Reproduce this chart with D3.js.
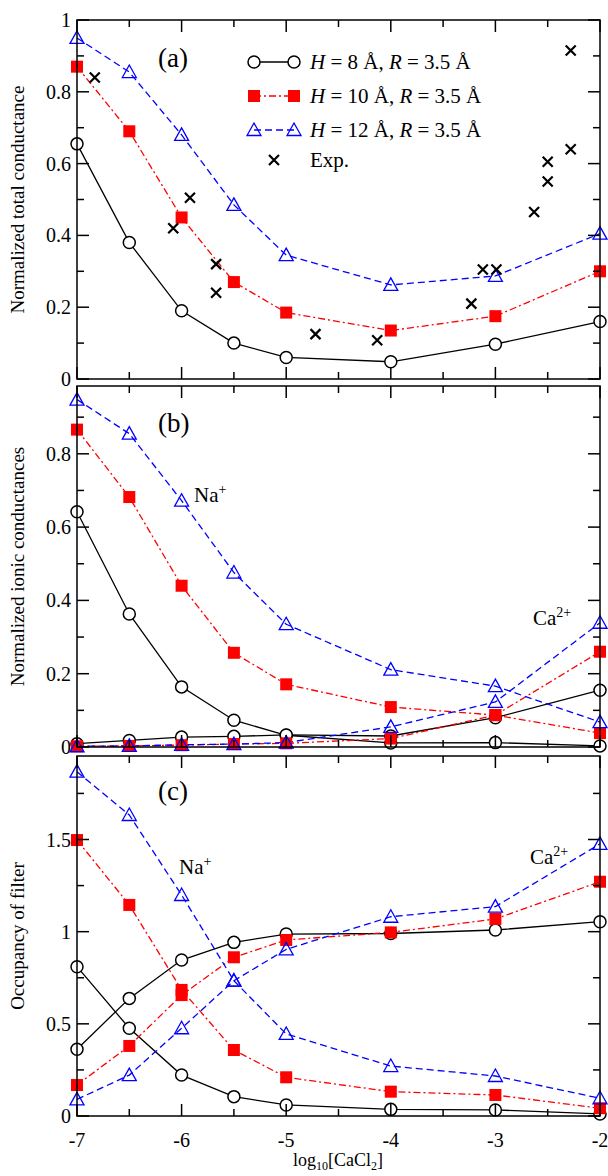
<!DOCTYPE html>
<html><head><meta charset="utf-8">
<script src="https://cdn.jsdelivr.net/npm/d3@7"></script>
<style>body{margin:0;background:#fff}text{font-family:"Liberation Serif","DejaVu Serif",serif}</style>
</head><body><svg id="c" width="608" height="1176"></svg>
<script>
const xs = [-7,-6.5,-6,-5.5,-5,-4,-3,-2];
// panel a: total conductance
const aH8  = [0.655,0.38,0.19,0.10,0.06,0.048,0.097,0.16];
const aH10 = [0.87,0.69,0.45,0.27,0.185,0.135,0.175,0.30];
const aH12 = [0.95,0.855,0.68,0.485,0.345,0.262,0.287,0.405];
const expX = [-6.83,-6.08,-5.92,-5.67,-5.67,-4.72,-4.13,-3.23,-3.12,-2.99,-2.63,-2.50,-2.50,-2.28,-2.28];
const expY = [0.84,0.42,0.505,0.32,0.24,0.125,0.108,0.21,0.305,0.305,0.465,0.55,0.605,0.64,0.915];
// panel b: ionic conductances
const bNaH8  = [0.642,0.363,0.164,0.073,0.032,0.011,0.012,0.003];
const bCaH8  = [0.009,0.018,0.027,0.029,0.033,0.03,0.08,0.155];
const bNaH10 = [0.866,0.682,0.44,0.257,0.171,0.109,0.087,0.038];
const bCaH10 = [0.002,0.003,0.005,0.008,0.01,0.023,0.087,0.26];
const bNaH12 = [0.948,0.855,0.672,0.476,0.335,0.211,0.166,0.068];
const bCaH12 = [0.002,0.003,0.006,0.008,0.012,0.055,0.123,0.339];
// panel c: occupancy
const cNaH8  = [0.81,0.476,0.222,0.105,0.06,0.036,0.033,0.011];
const cCaH8  = [0.362,0.638,0.846,0.942,0.987,0.99,1.009,1.054];
const cNaH10 = [1.497,1.145,0.684,0.358,0.21,0.132,0.114,0.042];
const cCaH10 = [0.168,0.38,0.656,0.861,0.955,0.996,1.069,1.271];
const cNaH12 = [1.868,1.633,1.199,0.734,0.445,0.271,0.217,0.096];
const cCaH12 = [0.09,0.222,0.476,0.734,0.904,1.081,1.136,1.476];
const xTicks = [-7,-6,-5,-4,-3,-2];

const svg = d3.select("#c");
const L=77, R=600;
const x = d3.scaleLinear().domain([-7,-2]).range([L,R]);
const styles = {
  H8:{color:"#000",dash:null,marker:"circle"},
  H10:{color:"#f00",dash:"7,3,2,3",marker:"square"},
  H12:{color:"#00f",dash:"7,4",marker:"triangle"}
};
const panels = [
  {top:20,bot:379,dom:[0,1.0],ticks:[0,0.2,0.4,0.6,0.8,1],minor:d3.range(0.1,1,0.2),title:"Normalized total conductance",lab:"(a)",
   series:[["H8",aH8],["H10",aH10],["H12",aH12]]},
  {top:386,bot:747,dom:[0,0.985],ticks:[0,0.2,0.4,0.6,0.8],minor:d3.range(0.1,0.95,0.2),title:"Normalized ionic conductances",lab:"(b)",
   series:[["H8",bNaH8],["H8",bCaH8],["H10",bNaH10],["H10",bCaH10],["H12",bNaH12],["H12",bCaH12]]},
  {top:756,bot:1116,dom:[0,1.953],ticks:[0,0.5,1,1.5],minor:[0.25,0.75,1.25,1.75],title:"Occupancy of filter",lab:"(c)",
   series:[["H8",cNaH8],["H8",cCaH8],["H10",cNaH10],["H10",cCaH10],["H12",cNaH12],["H12",cCaH12]]}
];
function marker(g,type,cx,cy,color){
  if(type==="circle") g.append("circle").attr("cx",cx).attr("cy",cy).attr("r",6).attr("fill","#fff").attr("stroke",color).attr("stroke-width",1.5);
  else if(type==="square") g.append("rect").attr("x",cx-6).attr("y",cy-6).attr("width",12).attr("height",12).attr("fill",color);
  else g.append("path").attr("d",`M${cx},${cy-7}L${cx+7},${cy+5.5}L${cx-7},${cy+5.5}Z`).attr("fill","none").attr("stroke",color).attr("stroke-width",1.3);
}
panels.forEach((p,i)=>{
  const y = d3.scaleLinear().domain(p.dom).range([p.bot,p.top]);
  const g = svg.append("g");
  p.series.forEach(([k,vals])=>{
    const s=styles[k];
    const line=d3.line().x((d,j)=>x(xs[j])).y(d=>y(d));
    g.append("path").attr("d",line(vals)).attr("fill","none").attr("stroke",s.color).attr("stroke-width",1.3).attr("stroke-dasharray",s.dash);
  });
  p.series.forEach(([k,vals])=>{
    const s=styles[k];
    vals.forEach((v,j)=>marker(g,s.marker,x(xs[j]),y(v),s.color));
  });
  g.append("rect").attr("x",L).attr("y",p.top).attr("width",R-L).attr("height",p.bot-p.top).attr("fill","none").attr("stroke","#000").attr("stroke-width",1.5);
  const xmaj=xTicks, xmin=[-6.5,-5.5,-4.5,-3.5,-2.5];
  xmaj.forEach(t=>{g.append("line").attr("x1",x(t)).attr("x2",x(t)).attr("y1",p.bot).attr("y2",p.bot-12).attr("stroke","#000").attr("stroke-width",1.5);
    g.append("line").attr("x1",x(t)).attr("x2",x(t)).attr("y1",p.top).attr("y2",p.top+12).attr("stroke","#000").attr("stroke-width",1.5);});
  xmin.forEach(t=>{g.append("line").attr("x1",x(t)).attr("x2",x(t)).attr("y1",p.bot).attr("y2",p.bot-7).attr("stroke","#000").attr("stroke-width",1.5);
    g.append("line").attr("x1",x(t)).attr("x2",x(t)).attr("y1",p.top).attr("y2",p.top+7).attr("stroke","#000").attr("stroke-width",1.5);});
  p.ticks.forEach(t=>{g.append("line").attr("x1",L).attr("x2",L+12).attr("y1",y(t)).attr("y2",y(t)).attr("stroke","#000").attr("stroke-width",1.5);
    g.append("line").attr("x1",R).attr("x2",R-12).attr("y1",y(t)).attr("y2",y(t)).attr("stroke","#000").attr("stroke-width",1.5);
    g.append("text").attr("x",L-6).attr("y",y(t)+7).attr("text-anchor","end").attr("font-size",20).text(t);});
  p.minor.forEach(t=>{g.append("line").attr("x1",L).attr("x2",L+7).attr("y1",y(t)).attr("y2",y(t)).attr("stroke","#000").attr("stroke-width",1.5);
    g.append("line").attr("x1",R).attr("x2",R-7).attr("y1",y(t)).attr("y2",y(t)).attr("stroke","#000").attr("stroke-width",1.5);});
  g.append("text").attr("transform",`translate(24,${(p.top+p.bot)/2}) rotate(-90)`).attr("text-anchor","middle").attr("font-size",19).text(p.title);
  g.append("text").attr("x",158).attr("y",[67,432,800][i]).attr("font-size",27).text(p.lab);
  if(i===0){
    expX.forEach((ex,j)=>{const cx=x(ex),cy=y(expY[j]);
      g.append("path").attr("d",`M${cx-5},${cy-5}L${cx+5},${cy+5}M${cx-5},${cy+5}L${cx+5},${cy-5}`).attr("stroke","#000").attr("stroke-width",2.2);});
    const leg=[["H8","8"],["H10","10"],["H12","12"]];
    leg.forEach(([k,h],j)=>{const s=styles[k],yy=62+j*34;
      g.append("line").attr("x1",254).attr("x2",294).attr("y1",yy).attr("y2",yy).attr("stroke",s.color).attr("stroke-width",1.3).attr("stroke-dasharray",s.dash);
      marker(g,s.marker,254,yy,s.color);marker(g,s.marker,294,yy,s.color);
      const t=g.append("text").attr("x",310).attr("y",yy+7).attr("font-size",21);
      t.append("tspan").attr("font-style","italic").text("H");
      t.append("tspan").text(` = ${h} Å, `);
      t.append("tspan").attr("font-style","italic").text("R");
      t.append("tspan").text(" = 3.5 Å");});
    const cx=274,cy=160;
    g.append("path").attr("d",`M${cx-5},${cy-5}L${cx+5},${cy+5}M${cx-5},${cy+5}L${cx+5},${cy-5}`).attr("stroke","#000").attr("stroke-width",2.2);
    g.append("text").attr("x",310).attr("y",cy+7).attr("font-size",21).text("Exp.");
  }
});
function ion(xp,yp,base,sup){const t=svg.append("text").attr("x",xp).attr("y",yp).attr("font-size",21);
  t.append("tspan").text(base);t.append("tspan").attr("font-size",14).attr("dy",-8).text(sup);}
ion(194,502,"Na","+");ion(533,625,"Ca","2+");ion(179,874,"Na","+");ion(530,864,"Ca","2+");
xTicks.forEach(t=>svg.append("text").attr("x",x(t)).attr("y",1147).attr("text-anchor","middle").attr("font-size",20).text(t));
const xl=svg.append("text").attr("x",338).attr("y",1166).attr("text-anchor","middle").attr("font-size",18);
xl.append("tspan").text("log");xl.append("tspan").attr("font-size",12).attr("dy",4).text("10");
xl.append("tspan").attr("dy",-4).text("[CaCl");xl.append("tspan").attr("font-size",12).attr("dy",4).text("2");
xl.append("tspan").attr("dy",-4).text("]");
</script></body></html>
